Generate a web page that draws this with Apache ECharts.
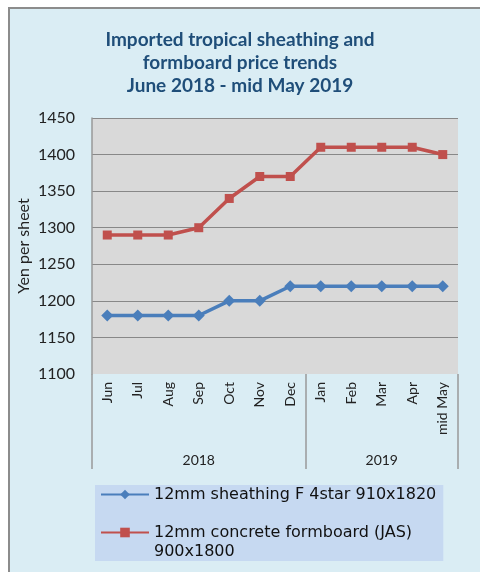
<!DOCTYPE html>
<html>
<head>
<meta charset="utf-8">
<script src="https://cdn.jsdelivr.net/npm/echarts@6/dist/echarts.min.js"></script>
<style>
  html, body { margin: 0; padding: 0; background: #ffffff; }
  #frame { position: absolute; left: 8px; top: 7px; width: 472px; height: 565px;
           background: #daedf4; border-top: 2px solid #8c8c8c; border-left: 2px solid #8c8c8c; box-sizing: border-box; }
  #chart { position: absolute; left: 0; top: 0; width: 480px; height: 572px; }
</style>
</head>
<body>
<div id="frame"></div>
<div id="chart"></div>
<script>
// ---- data ----
const months = ['Jun', 'Jul', 'Aug', 'Sep', 'Oct', 'Nov', 'Dec', 'Jan', 'Feb', 'Mar', 'Apr', 'mid May'];
const years = ['2018', '2018', '2018', '2018', '2018', '2018', '2018', '2019', '2019', '2019', '2019', '2019'];
const sheathing = [1180, 1180, 1180, 1180, 1200, 1200, 1220, 1220, 1220, 1220, 1220, 1220];
const formboard = [1290, 1290, 1290, 1300, 1340, 1370, 1370, 1410, 1410, 1410, 1410, 1400];
const seriesNames = ['12mm sheathing F 4star 910x1820', '12mm concrete formboard (JAS)\n900x1800'];
const yTicks = { min: 1100, max: 1450, interval: 50 };

const chart = echarts.init(document.getElementById('chart'), null, { renderer: 'canvas' });
const yearLabelIdx = [3, 9];
const yearSepIdx = [0, 7];

chart.setOption({
  backgroundColor: 'transparent',
  animation: false,
  title: {
    text: 'Imported tropical sheathing and\nformboard price trends\nJune 2018 - mid May 2019',
    left: 'center',
    top: 28,
    padding: 0,
    textStyle: { fontFamily: 'Lato', fontSize: 19, fontWeight: 'bold', color: '#1f4e79', lineHeight: 23 }
  },
  grid: { left: 92, right: 22, top: 118, bottom: 198, show: true, backgroundColor: '#d9d9d9', borderWidth: 0 },
  legend: {
    orient: 'vertical',
    left: 95,
    top: 485,
    height: 120,
    padding: [0, 7, 0, 5],
    backgroundColor: '#c6d9f1',
    itemWidth: 48,
    itemHeight: 12,
    itemGap: 0,
    formatter: function (name) {
      return name.indexOf('\n') >= 0 ? '\n' + name : name;
    },
    data: seriesNames,
    textStyle: { fontFamily: 'DejaVu Sans', fontSize: 16, color: '#111', lineHeight: 19 }
  },
  xAxis: [
    {
      type: 'category',
      data: months,
      boundaryGap: true,
      axisLine: { show: false },
      axisTick: { show: false },
      axisLabel: { rotate: 90, margin: 8, fontFamily: 'Lato', fontSize: 14, color: '#222' }
    },
    {
      type: 'category',
      data: years,
      position: 'bottom',
      boundaryGap: true,
      axisLine: { show: false },
      axisTick: {
        show: true, length: 95, lineStyle: { color: '#999', width: 1.5 },
        interval: function (i) { return yearSepIdx.indexOf(i) >= 0; }
      },
      axisLabel: {
        margin: 79, fontFamily: 'Lato', fontSize: 14, color: '#222',
        interval: function (i) { return yearLabelIdx.indexOf(i) >= 0; }
      }
    }
  ],
  yAxis: {
    type: 'value',
    min: yTicks.min, max: yTicks.max, interval: yTicks.interval,
    name: 'Yen per sheet',
    nameLocation: 'middle',
    nameGap: 60,
    nameMoveOverlap: false,
    nameTextStyle: { fontFamily: 'Lato', fontSize: 16, color: '#222' },
    axisLine: { show: true, lineStyle: { color: '#999', width: 1.5 } },
    axisTick: { show: false },
    axisLabel: { margin: 17, fontFamily: 'Lato', fontSize: 16, color: '#222', formatter: function (v) { return String(v); } },
    splitLine: { show: true, showMinLine: false, lineStyle: { color: '#888', width: 1 } }
  },
  series: [
    {
      name: seriesNames[0], type: 'line', data: sheathing,
      symbol: 'diamond', symbolSize: 12,
      itemStyle: { color: '#4a7ebb' },
      lineStyle: { color: '#4a7ebb', width: 3.5 }
    },
    {
      name: seriesNames[1], type: 'line', data: formboard,
      symbol: 'rect', symbolSize: 9,
      itemStyle: { color: '#c0504d' },
      lineStyle: { color: '#c0504d', width: 3.5 }
    }
  ]
});
</script>
</body>
</html>
